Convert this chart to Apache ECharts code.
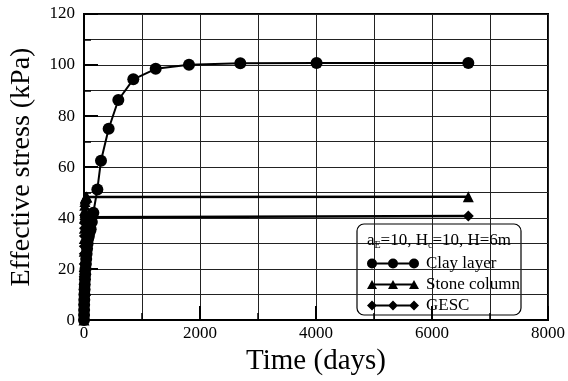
<!DOCTYPE html>
<html>
<head>
<meta charset="utf-8">
<script src="https://cdn.jsdelivr.net/npm/echarts@6/dist/echarts.min.js"></script>
<style>
  html, body { margin: 0; padding: 0; background: #fff; }
  #chart { width: 568px; height: 381px; }
</style>
</head>
<body>
<div id="chart"></div>
<script>
const chartDom = document.getElementById('chart');
const myChart = echarts.init(chartDom);

// time (days) and effective stress (kPa)
const clayTime = [0, 1, 2, 3, 5, 7, 10, 13, 17, 21, 26, 32, 38, 45, 53, 62, 72, 84, 98, 115, 135, 161, 230, 293, 425, 592, 850, 1236, 1810, 2695, 4010, 6626];
const clayStress = [0, 2, 4, 6, 8, 10, 12, 14, 16, 18, 20, 22, 24, 26, 28, 30, 32, 33, 34.5, 35.6, 38.5, 42.1, 51.2, 62.5, 75, 86.3, 94.4, 98.5, 100.1, 100.7, 100.8, 100.8];

const stoneTime = [0, 1, 2, 3, 4, 5, 6, 8, 10, 13, 16, 20, 25, 30, 40, 50, 6626];
const stoneStress = [0, 8, 15, 21, 27, 32, 36, 40, 43, 45, 46.5, 47.5, 48, 48.2, 48.3, 48.3, 48.4];

const gescTime = [0, 1, 2, 3, 4, 5, 6, 8, 10, 13, 16, 20, 25, 30, 40, 50, 6626];
const gescStress = [0, 6, 12, 17, 22, 26, 29, 33, 36, 38, 39.5, 40.3, 40.6, 40.7, 40.8, 40.8, 40.8];

const seriesNames = ['Clay layer', 'Stone column', 'GESC'];

const pairs = (xs, ys) => xs.map((x, i) => [x, ys[i]]);

const font = 'Liberation Serif';

// legend icons: a line with three markers, all in a 52 x 11 box
const rod = 'M4,4.6 L48,4.6 L48,6.6 L4,6.6 Z ';
const circ = (cx) => `M${cx - 5},5.5 A5,5 0 0,1 ${cx + 5},5.5 A5,5 0 0,1 ${cx - 5},5.5 Z `;
const tri = (cx) => `M${cx},1 L${cx + 5},10 L${cx - 5},10 Z `;
const dia = (cx) => `M${cx},0.5 L${cx + 5},5.5 L${cx},10.5 L${cx - 5},5.5 Z `;
const corners = 'M0,0 L0.01,0 L0.01,0.01 Z M52,11 L51.99,11 L51.99,10.99 Z';
const clayIcon = 'path://' + circ(5) + circ(26) + circ(47) + rod + corners;
const stoneIcon = 'path://' + tri(5) + tri(26) + tri(47) + rod + corners;
const gescIcon = 'path://' + dia(5) + dia(26) + dia(47) + rod + corners;

const option = {
    animation: false,
    backgroundColor: '#fff',
    grid: {
        left: 84,
        right: 20,
        top: 14,
        bottom: 60,
        show: true,
        borderColor: '#000',
        borderWidth: 2
    },
    xAxis: {
        type: 'value',
        min: 0,
        max: 8000,
        interval: 2000,
        name: 'Time (days)',
        nameLocation: 'middle',
        nameGap: 24,
        nameTextStyle: { fontFamily: font, fontSize: 29, color: '#000' },
        axisLine: { lineStyle: { color: '#000', width: 2 } },
        axisTick: { inside: true, length: 14, lineStyle: { color: '#000', width: 2 } },
        minorTick: { show: true, splitNumber: 2, length: 7, lineStyle: { color: '#000', width: 1.5 } },
        axisLabel: { fontFamily: font, fontSize: 17, color: '#000', margin: 5, formatter: (v) => String(v) },
        splitLine: { show: true, lineStyle: { color: '#222', width: 1 } },
        minorSplitLine: { show: true, lineStyle: { color: '#222', width: 1 } }
    },
    yAxis: {
        type: 'value',
        min: 0,
        max: 120,
        interval: 20,
        name: 'Effective stress (kPa)',
        nameLocation: 'middle',
        nameGap: 48,
        nameTextStyle: { fontFamily: font, fontSize: 28, color: '#000' },
        axisLine: { lineStyle: { color: '#000', width: 2 } },
        axisTick: { inside: true, length: 14, lineStyle: { color: '#000', width: 2 } },
        minorTick: { show: true, splitNumber: 2, length: 7, lineStyle: { color: '#000', width: 1.5 } },
        axisLabel: { fontFamily: font, fontSize: 17, color: '#000', margin: 9 },
        splitLine: { show: true, lineStyle: { color: '#222', width: 1 } },
        minorSplitLine: { show: true, lineStyle: { color: '#222', width: 1 } }
    },
    legend: {
        orient: 'vertical',
        left: 362,
        top: 250,
        itemWidth: 52,
        itemHeight: 11,
        itemGap: 4,
        textStyle: { fontFamily: font, fontSize: 17, lineHeight: 17, color: '#000', padding: [0, 0, 0, 2] },
        data: [
            { name: seriesNames[0], icon: clayIcon },
            { name: seriesNames[1], icon: stoneIcon },
            { name: seriesNames[2], icon: gescIcon }
        ]
    },
    graphic: [
        {
            type: 'rect',
            shape: { x: 357, y: 224, width: 164, height: 91, r: 7 },
            style: { fill: '#fff', stroke: '#000', lineWidth: 1.2 },
            z: 0
        },
        {
            type: 'text',
            x: 439,
            y: 241,
            style: {
                text: 'a{s|E}=10, H{s|c}=10, H=6m',
                fontFamily: font,
                fontSize: 17,
                fill: '#000',
                align: 'center',
                verticalAlign: 'middle',
                rich: {
                    s: { fontFamily: font, fontSize: 10, fill: '#000', padding: [9, 0, 0, 0] }
                }
            },
            z: 1
        }
    ],
    series: [
        {
            name: seriesNames[0],
            type: 'line',
            data: pairs(clayTime, clayStress),
            symbol: 'circle',
            symbolSize: 12,
            lineStyle: { color: '#000', width: 2 },
            itemStyle: { color: '#000' },
            z: 5
        },
        {
            name: seriesNames[1],
            type: 'line',
            data: pairs(stoneTime, stoneStress),
            symbol: 'triangle',
            symbolSize: 11,
            lineStyle: { color: '#000', width: 2.5 },
            itemStyle: { color: '#000' },
            z: 4
        },
        {
            name: seriesNames[2],
            type: 'line',
            data: pairs(gescTime, gescStress),
            symbol: 'diamond',
            symbolSize: 11,
            lineStyle: { color: '#000', width: 2.5 },
            itemStyle: { color: '#000' },
            z: 4
        }
    ]
};

myChart.setOption(option);
</script>
</body>
</html>
